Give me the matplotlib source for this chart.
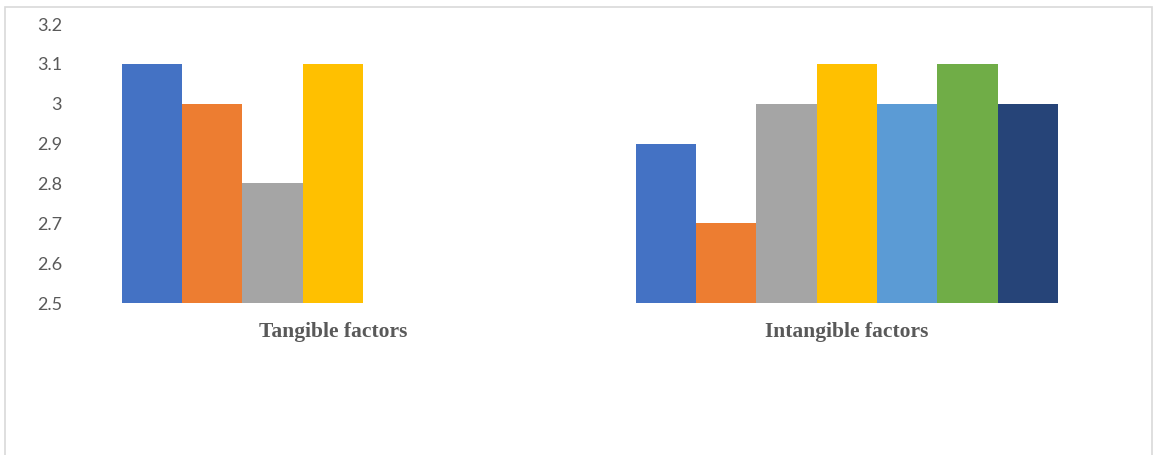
import numpy as np
import matplotlib.pyplot as plt
from matplotlib.patches import Rectangle

# -----------------------------------------------------------------------------
# Data
# -----------------------------------------------------------------------------
categories = ["Tangible factors", "Intangible factors"]
series_1 = [3.1, 2.9]
series_2 = [3.0, 2.7]
series_3 = [2.8, 3.0]
series_4 = [3.1, 3.1]
series_5 = [np.nan, 3.0]
series_6 = [np.nan, 3.1]
series_7 = [np.nan, 3.0]
y_ticks = [2.5, 2.6, 2.7, 2.8, 2.9, 3.0, 3.1, 3.2]
y_tick_labels = ["2.5", "2.6", "2.7", "2.8", "2.9", "3", "3.1", "3.2"]

all_series = [series_1, series_2, series_3, series_4, series_5, series_6, series_7]
colors = ["#4472C4", "#ED7D31", "#A5A5A5", "#FFC000", "#5B9BD5", "#70AD47", "#264478"]

# -----------------------------------------------------------------------------
# Figure and axes
# -----------------------------------------------------------------------------
fig = plt.figure(figsize=(11.56, 4.55), dpi=100)
ax = fig.add_axes([0.0657, 0.334, 0.8893, 0.613])

n = len(all_series)
gap = 1.52
bar_w = 1.0 / (n + gap)
x = np.arange(len(categories))
for i, (vals, c) in enumerate(zip(all_series, colors)):
    offs = (i - (n - 1) / 2) * bar_w
    ax.bar(x + offs, np.array(vals) - 2.5, bar_w, bottom=2.5, color=c, linewidth=0)

ax.set_xlim(-0.5, len(categories) - 0.5)
ax.set_ylim(2.5, 3.2)
ax.set_yticks(y_ticks)
ax.set_yticklabels(y_tick_labels, fontsize=13, color="#595959", family="Lato")
ax.set_xticks(x)
ax.set_xticklabels(categories, fontsize=15.5, fontweight="bold", color="#595959",
                   family="Liberation Serif")
ax.tick_params(axis="y", length=0, pad=10)
ax.tick_params(axis="x", length=0, pad=14)
for s in ax.spines.values():
    s.set_visible(False)

# light chart border
fig.patches.append(Rectangle((5 / 1156, -0.05), 1147 / 1156, 1.05 - 7 / 455,
                             transform=fig.transFigure, fill=False,
                             edgecolor="#d9d9d9", linewidth=1.2))

fig.savefig("out.png", dpi=100)
